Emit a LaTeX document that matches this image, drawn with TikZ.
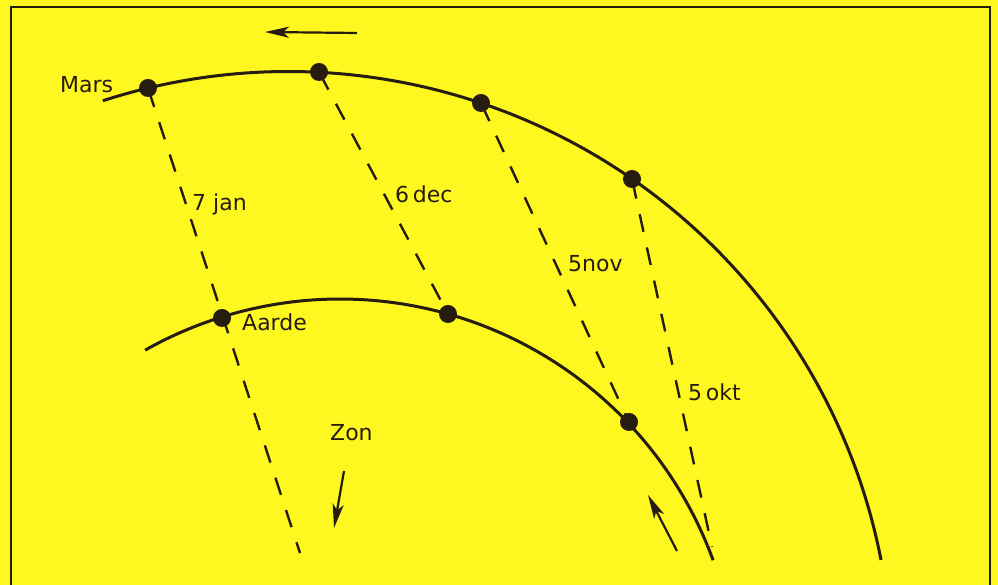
\documentclass[tikz,border=0pt]{standalone}
\usepackage{fontspec}
\setmainfont{DejaVu Sans}
\usetikzlibrary{arrows.meta}
\definecolor{bgyellow}{RGB}{255,248,32}
\definecolor{ink}{RGB}{38,28,16}
\tikzset{
  orbit/.style={ink, line width=3pt},
  sight/.style={ink, line width=2.4pt, dash pattern=on 18pt off 16pt, shorten <=2pt},
  planet/.style={circle, fill=ink, minimum size=18pt, inner sep=0pt},
  lbl/.style={ink, anchor=base west, inner sep=0pt, font=\fontsize{22}{26}\selectfont},
  motion/.style={ink, line width=2.2pt, -{Stealth[length=24pt,width=11pt,inset=6pt]}},
  frameline/.style={ink, line width=2pt}
}
\begin{document}
\begin{tikzpicture}[x=1pt,y=1pt]
  \fill[bgyellow] (0,0) rectangle (998,585);
  \useasboundingbox (0,0) rectangle (998,585);
  % frame (open at the bottom)
  \draw[frameline] (11,-5) -- (11,578) -- (990,578) -- (990,-5);
  % orbits
  \draw[orbit] (288.4,-90.2) ++(107.9:603.7) arc[start angle=107.9, end angle=11.0, radius=603.7];
  \draw[orbit] (340,-111) ++(119.4:397) arc[start angle=119.4, end angle=20.0, radius=397];
  % end points of sight lines
  \coordinate (s1) at (300,32);
  \coordinate (s4) at (712,38);
  % sight lines
  \draw[sight] (148,497) -- (s1);
  \draw[sight] (319,513) -- (448,271);
  \draw[sight] (481,482) -- (629,163);
  \draw[sight] (632,406) -- (s4);
  % planets
  \node[planet] (m1) at (148,497) {};
  \node[planet] (m2) at (319,513) {};
  \node[planet] (m3) at (481,482) {};
  \node[planet] (m4) at (632,406) {};
  \node[planet] (e1) at (222,267) {};
  \node[planet] (e2) at (448,271) {};
  \node[planet] (e3) at (629,163) {};
  % labels
  \node[lbl] (mars) at (60,492) {Mars};
  \node[lbl] (jan) at (192,374) {7 jan};
  \node[lbl] (dec) at (395,382) {6\,dec};
  \node[lbl] (nov) at (568,313) {5nov};
  \node[lbl] (okt) at (688,184) {5\,okt};
  \node[lbl] (aarde) at (242,254) {Aarde};
  \node[lbl] (zon) at (330,144) {Zon};
  % motion arrows
  \coordinate (a1s) at (357,552);
  \coordinate (a1e) at (265,553);
  \coordinate (a2s) at (344,114);
  \coordinate (a2e) at (334,57);
  \coordinate (a3s) at (677,34);
  \coordinate (a3e) at (648,90);
  \draw[motion] (a1s) -- (a1e);
  \draw[motion] (a2s) -- (a2e);
  \draw[motion] (a3s) -- (a3e);
\end{tikzpicture}
\end{document}
